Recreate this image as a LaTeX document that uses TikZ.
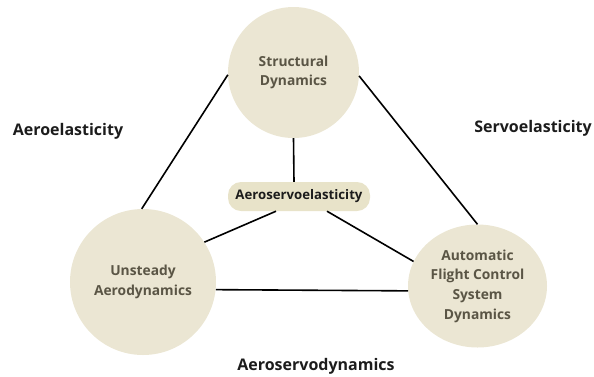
\documentclass[tikz,border=0pt]{standalone}
\usepackage{fontspec}
\setmainfont{Open Sans}
\usetikzlibrary{shapes.geometric,calc}
\definecolor{beige}{HTML}{EBE6D3}
\definecolor{pillc}{HTML}{E8E3C9}
\definecolor{intext}{HTML}{5A5545}
\definecolor{outtext}{HTML}{1C1C1C}
\begin{document}
\begin{tikzpicture}[x=1pt,y=-1pt,
  topic/.style={circle,fill=beige,draw=none,inner sep=0pt,text=intext,
    font=\bfseries\fontsize{13.8}{19.5}\selectfont,align=center},
  lab/.style={text=outtext,font=\bfseries\fontsize{16}{18}\selectfont,inner sep=0pt},
  link/.style={draw=black,line width=1.6pt}]
\useasboundingbox (0,0) rectangle (594,376);
\node[topic,minimum size=131pt] (sd) at (293.5,72.5) {Structural\\Dynamics};
\node[topic,minimum size=146pt] (ua) at (143,282) {Unsteady\\Aerodynamics};
\node[ellipse,fill=beige,inner sep=0pt,minimum width=139pt,minimum height=123pt,
  text=intext,font=\bfseries\fontsize{13.8}{19.7}\selectfont,align=center] (af) at (477.5,286)
  {Automatic\\Flight Control\\System\\Dynamics};
\node[rounded corners=13pt,fill=pillc,minimum width=142pt,minimum height=29pt,inner sep=0pt,
  text=outtext,font=\bfseries\fontsize{13.2}{15}\selectfont] (ase) at (299,196.5) {Aeroservoelasticity};
\node[lab] (ae) at (68,131) {Aeroelasticity};
\node[lab] (se) at (533,128) {Servoelasticity};
\node[lab] (asd) at (316,366) {Aeroservodynamics};
\coordinate (pl) at ($(ase.south)+(-23,0)$);
\coordinate (pr) at ($(ase.south)+(28,0)$);
\coordinate (pt) at ($(ase.north)+(-5,0)$);
\draw[link] (sd.182) -- (ua.91);
\draw[link] (sd.357) -- (af.90);
\draw[link] (sd.270) -- (pt);
\draw[link] (pl) -- (ua.33);
\draw[link] (pr) -- (af.159);
\draw[link] (ua.354) -- (af.184);
\end{tikzpicture}
\end{document}
